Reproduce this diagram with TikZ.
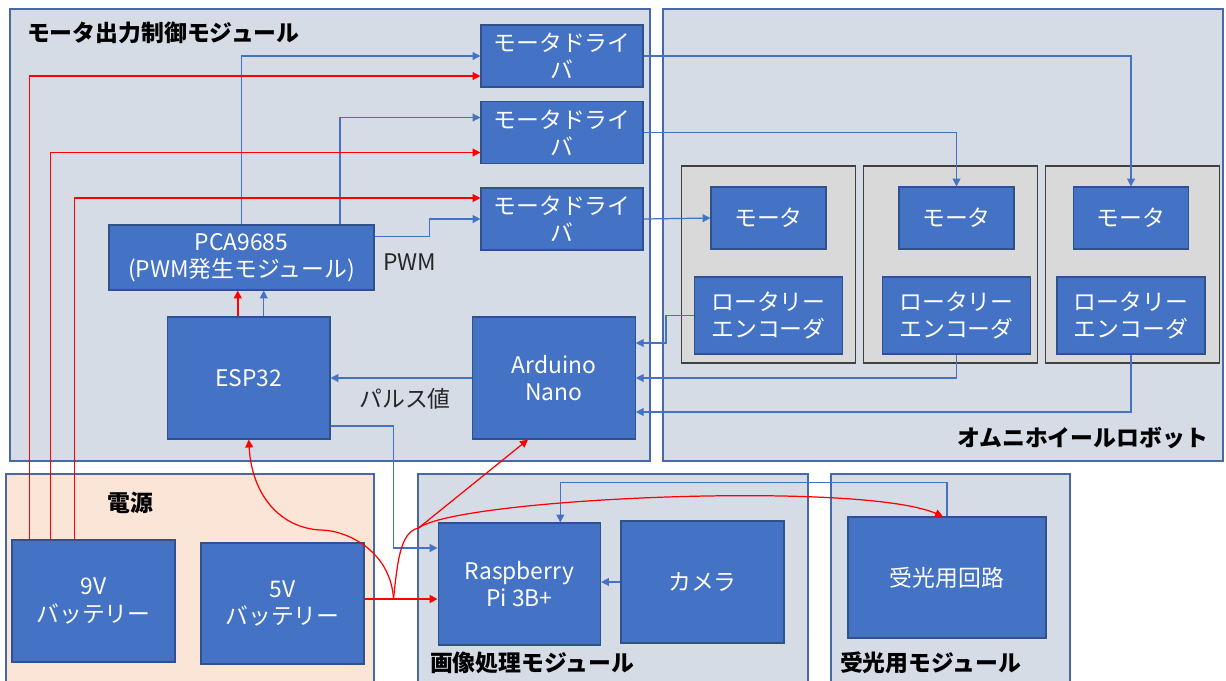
\documentclass[tikz,border=0pt]{standalone}
\usepackage{fontspec}
\setmainfont{Noto Sans CJK JP}
\usepackage{tikz}
\usetikzlibrary{arrows.meta,positioning,calc}
\definecolor{boxblue}{RGB}{68,114,196}
\definecolor{boxline}{RGB}{47,82,143}
\definecolor{grpfill}{RGB}{214,220,229}
\definecolor{grpline}{RGB}{72,104,168}
\definecolor{pwrfill}{RGB}{251,229,214}
\definecolor{unitfill}{RGB}{217,217,217}
\tikzset{
  blk/.style  ={rectangle, draw=boxline, fill=boxblue, text=white, line width=0.6pt,
                align=center, inner sep=1pt},
  grp/.style  ={draw=grpline, fill=grpfill, line width=0.6pt},
  unit/.style ={rectangle, draw=black!75, fill=unitfill, line width=0.7pt},
  sig/.style  ={draw=boxblue, line width=0.7pt, -{Triangle[length=4.5pt,width=4.5pt]}},
  pwr/.style  ={draw=red, line width=0.7pt, -{Triangle[length=4.5pt,width=4.5pt]}},
  ttl/.style  ={font=\fontsize{13pt}{15.5pt}\selectfont\bfseries, text=black, inner sep=1pt},
  lbl/.style  ={text=black!85, inner sep=1pt},
}
\begin{document}
\begin{tikzpicture}[x=0.2mm, y=-0.2mm, font=\fontsize{13pt}{15.5pt}\selectfont]
    \useasboundingbox (0,0) rectangle (1226,680);

    % module frames
    \draw[grp] (10,9) rectangle (650,461);
    \draw[grp] (663,9) rectangle (1223,461);
    \draw[grp, fill=pwrfill] (6,474) rectangle (374,684);
    \draw[grp] (418,474) rectangle (808,684);
    \draw[grp] (831,474) rectangle (1070,684);
    \node[ttl, anchor=west] (tmc) at (25,33) {モータ出力制御モジュール};
    \node[ttl, anchor=east] (tomni) at (1210,438) {オムニホイールロボット};
    \node[ttl] (tpwr) at (130,503) {電源};
    \node[ttl, anchor=west] (timg) at (428,663) {画像処理モジュール};
    \node[ttl, anchor=west] (trcv) at (838,663) {受光用モジュール};

    % motor control
    \foreach \i/\y in {1/56, 2/132.5, 3/219}
      \node[blk, minimum width=3.24cm, minimum height=1.24cm] (md\i) at (562,\y) {モータドライ\\バ};
    \node[blk, minimum width=5.3cm, minimum height=1.3cm] (pca) at (241.5,257.5)
        {PCA9685\\(PWM発生モジュール)};
    \node[blk, minimum width=3.25cm, minimum height=2.44cm] (esp) at (248.75,378) {ESP32};
    \node[blk, minimum width=3.25cm, minimum height=2.44cm] (ard) at (554,378) {Arduino\\Nano};

    % wheels
    \foreach \i/\ux/\mx in {1/768.5/768.5, 2/950.5/956.5, 3/1132.5/1131}{
      \node[unit, minimum width=3.47cm, minimum height=3.94cm] (unit\i) at (\ux,264.5) {};
      \node[blk, minimum width=2.3cm, minimum height=1.24cm] (mot\i) at (\mx,218) {モータ};
      \node[blk, minimum width=2.96cm, minimum height=1.54cm] (enc\i) at (\mx,315.5) {ロータリー\\エンコーダ};
    }

    % power, image, receiver
    \node[blk, minimum width=3.26cm, minimum height=2.44cm] (bat9) at (93.5,601) {9V\\バッテリー};
    \node[blk, minimum width=3.26cm, minimum height=2.42cm] (bat5) at (282.5,603.5) {5V\\バッテリー};
    \node[blk, minimum width=3.25cm, minimum height=2.44cm] (rpi) at (519.3,584) {Raspberry\\Pi 3B+};
    \node[blk, minimum width=3.26cm, minimum height=2.44cm] (cam) at (702.5,582) {カメラ};
    \node[blk, minimum width=3.96cm, minimum height=2.42cm] (rcv) at (947,577.5) {受光用回路};

    % signal lines
    \draw[sig] (pca.north) |- (md1.west);
    \draw[sig] ($(pca.north west)!0.87!(pca.north east)$) |- ($(md2.west)+(0,-15)$);
    \draw[sig] ($(pca.east)+(0,-21)$) -- ++(55,0) |- (md3.west);
    \node[lbl] (pwm) at (410,262) {PWM};
    \draw[sig] (md1.east) -| (mot3.north);
    \draw[sig] (md2.east) -| (mot2.north);
    \draw[sig] (md3.east) -- (mot1.west);
    \draw[sig] (enc1.west) -- ++(-28,0) |- ($(ard.east)+(0,-35)$);
    \draw[sig] (enc2.south) |- (ard.east);
    \draw[sig] (enc3.south) |- ($(ard.east)+(0,34)$);
    \draw[sig] (ard.west) -- (esp.east);
    \node[lbl] (pulse) at (405,399) {パルス値};
    \coordinate (eb) at ($(esp.north)+(15,0)$);
    \draw[sig] (eb) -- (eb |- pca.south);
    \draw[sig] ($(esp.east)+(0,48)$) -- ++(63,0) |- ($(rpi.west)+(0,-36)$);
    \draw[sig] (cam.west) -- (cam.west -| rpi.east);
    \draw[sig] (rcv.north) -- ++(0,-34) -| ($(rpi.north)+(41,0)$);

    % power lines
    \foreach \dx/\md/\dy in {18/md1/20, 39/md2/20, 63/md3/-21}
      \draw[pwr] ($(bat9.north west)+(\dx,0)$) |- ($(\md.west)+(0,\dy)$);
    \coordinate (er) at ($(esp.north)+(-11,0)$);
    \draw[pwr, line width=1pt] (er) -- (er |- pca.south);
    \coordinate (split) at ($(bat5.east)+(29,-4.5)$);
    \coordinate (bend) at ($(split)+(-73,-69)$);
    \coordinate (fork) at ($(split)+(25,-71)$);
    \draw[pwr, line width=1pt] ($(bat5.east)+(0,-4.5)$) -- (split) -- (split -| rpi.west);
    \draw[pwr] (split) .. controls +(-3,-49) and +(25,0) .. (bend)
        .. controls +(-40,-2) and +(3,56) .. (esp.south);
    \draw[pwr] (split) .. controls +(4,-39) and +(-18,4) .. (fork) -- ($(ard.south)+(-26,0)$);
    \draw[pwr] (fork) .. controls +(40,-30) and +(-83,-36) .. ($(rcv.north)+(-4,0)$);
\end{tikzpicture}
\end{document}
